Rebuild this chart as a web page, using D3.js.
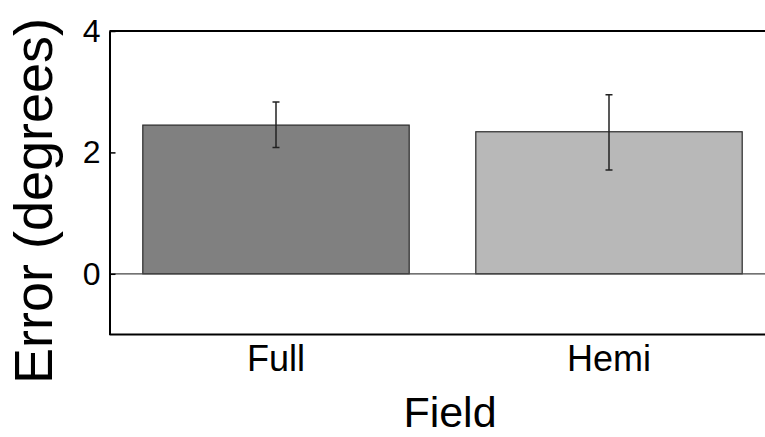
<!DOCTYPE html>
<html>
<head>
<meta charset="utf-8">
<script src="https://cdn.jsdelivr.net/npm/d3@7"></script>
<style>
  html, body { margin: 0; padding: 0; background: #fff; }
  svg { display: block; font-family: "Liberation Sans", Arial, Helvetica, sans-serif; }
</style>
</head>
<body>
<svg id="chart" width="765" height="437"></svg>
<script>
// Mean angular error per field condition, with error-bar extents
const categories = ["Full", "Hemi"];
const means = [2.45, 2.34];
const errLow = [2.08, 1.71];
const errHigh = [2.83, 2.95];
const barColors = ["#808080", "#b8b8b8"];
const yTicks = [0, 2, 4];

const width = 765, height = 437;
const plot = { left: 109.5, right: 775.5, top: 31, bottom: 334.5 };

const svg = d3.select("#chart");

const x = d3.scaleBand()
  .domain(categories)
  .range([plot.left, plot.right])
  .paddingInner(0.2)
  .paddingOuter(0.1);

const y = d3.scaleLinear()
  .domain([-1, 4])
  .range([plot.bottom, plot.top]);

svg.append("defs").append("clipPath").attr("id", "plotClip")
  .append("rect")
  .attr("x", plot.left).attr("y", plot.top)
  .attr("width", plot.right - plot.left).attr("height", plot.bottom - plot.top);

const g = svg.append("g").attr("clip-path", "url(#plotClip)");

// bars
g.selectAll("rect.bar")
  .data(categories)
  .join("rect")
  .attr("class", "bar")
  .attr("x", d => x(d))
  .attr("width", x.bandwidth())
  .attr("y", (d, i) => y(means[i]))
  .attr("height", (d, i) => y(0) - y(means[i]))
  .attr("fill", (d, i) => barColors[i])
  .attr("stroke", "#2a2a2a")
  .attr("stroke-width", 1.2);

// zero baseline
g.append("line")
  .attr("x1", plot.left).attr("x2", plot.right)
  .attr("y1", y(0)).attr("y2", y(0))
  .attr("stroke", "#444").attr("stroke-width", 1.2);

// error bars
const eb = g.selectAll("g.err").data(categories).join("g").attr("class", "err");
const cx = d => x(d) + x.bandwidth() / 2;
eb.append("line")
  .attr("x1", cx).attr("x2", cx)
  .attr("y1", (d, i) => y(errLow[i])).attr("y2", (d, i) => y(errHigh[i]))
  .attr("stroke", "#222").attr("stroke-width", 1.5);
[errLow, errHigh].forEach(arr => {
  eb.append("line")
    .attr("x1", d => cx(d) - 3.5).attr("x2", d => cx(d) + 3.5)
    .attr("y1", (d, i) => y(arr[i])).attr("y2", (d, i) => y(arr[i]))
    .attr("stroke", "#222").attr("stroke-width", 1.5);
});

// frame
const frame = svg.append("g").attr("stroke", "#000").attr("stroke-width", 2).attr("fill", "none");
frame.append("line").attr("x1", plot.left).attr("x2", width + 5).attr("y1", plot.top).attr("y2", plot.top);
frame.append("line").attr("x1", plot.left).attr("x2", width + 5).attr("y1", plot.bottom).attr("y2", plot.bottom);

// y axis with inward ticks
const yAxis = svg.append("g")
  .attr("transform", `translate(${plot.left},0)`)
  .call(d3.axisLeft(y).tickValues(yTicks).tickFormat(d3.format("d"))
    .tickSizeInner(-6).tickSizeOuter(0).tickPadding(9));
yAxis.select(".domain").attr("stroke", "#000").attr("stroke-width", 2);
yAxis.selectAll(".tick line").attr("stroke", "#000").attr("stroke-width", 1.5);
yAxis.selectAll(".tick text")
  .attr("font-size", 32).attr("fill", "#000")
  .attr("font-family", "Liberation Sans, Arial, sans-serif");

// x axis labels
const xAxis = svg.append("g")
  .attr("transform", `translate(0,${plot.bottom})`)
  .call(d3.axisBottom(x).tickSize(0).tickPadding(36));
xAxis.select(".domain").remove();
xAxis.selectAll(".tick text")
  .attr("font-size", 36).attr("fill", "#000").attr("dy", 0)
  .attr("font-family", "Liberation Sans, Arial, sans-serif");

// axis titles
svg.append("text")
  .attr("x", 450).attr("y", 426.5)
  .attr("text-anchor", "middle")
  .attr("font-size", 43)
  .text("Field");

svg.append("text")
  .attr("transform", "translate(52,201) rotate(-90)")
  .attr("text-anchor", "middle")
  .attr("font-size", 54)
  .text("Error (degrees)");
</script>
</body>
</html>
